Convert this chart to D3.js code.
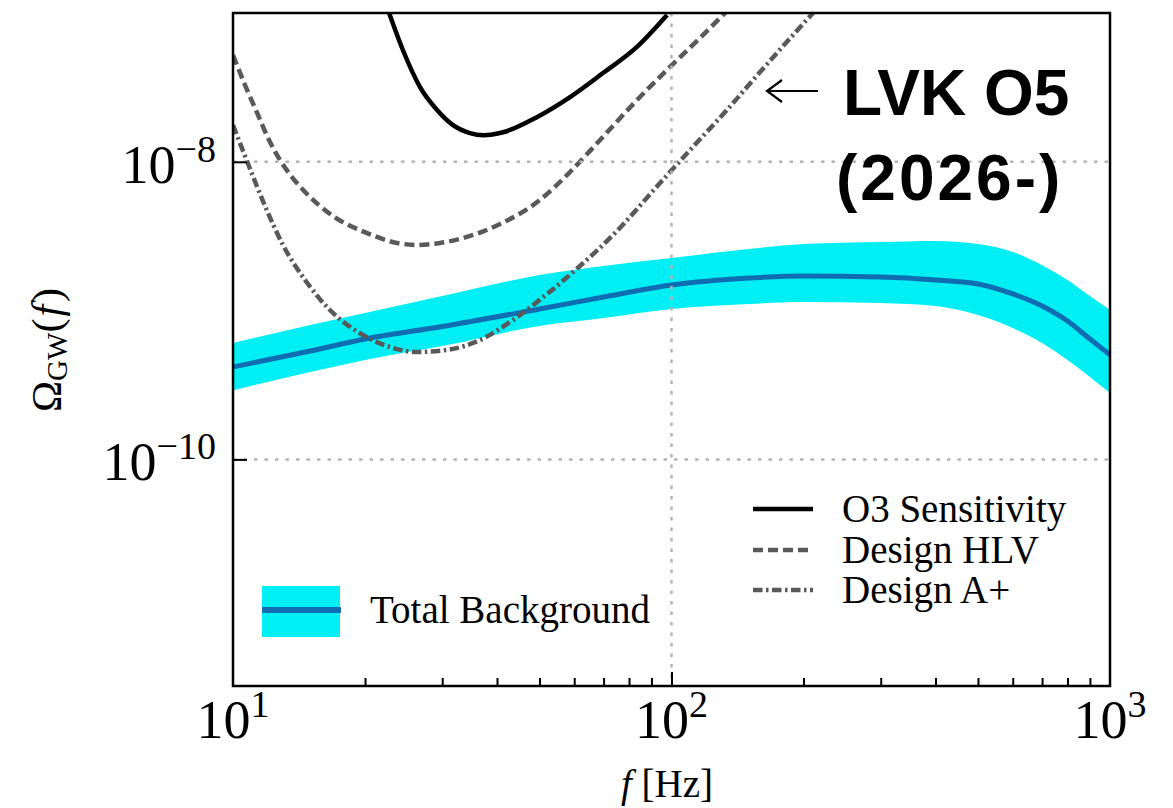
<!DOCTYPE html>
<html>
<head>
<meta charset="utf-8">
<script src="https://cdn.jsdelivr.net/npm/d3@7"></script>
<style>
  html, body { margin: 0; padding: 0; background: #ffffff; }
  svg { display: block; }
</style>
</head>
<body>
<svg id="chart" width="1173" height="808"></svg>
<script>
// ---- Data: frequency f [Hz] and energy density Omega_GW(f) ----
// O3 sensitivity curve
const o3Freq  = [22.7, 24.4, 26.7, 29.2, 31.7, 34.7, 37.2, 41.3, 49.4, 58.7, 69.8, 83.4, 97.7];
const o3Omega = [1.0e-7, 5.64e-8, 3.18e-8, 2.23e-8, 1.77e-8, 1.56e-8, 1.51e-8, 1.58e-8, 2.0e-8, 2.72e-8, 3.95e-8, 5.92e-8, 9.7e-8];

// Design HLV network sensitivity
const hlvFreq  = [10, 10.65, 11.35, 12.02, 12.8, 13.63, 14.6, 16.91, 20.21, 23.66, 26.28, 29.66, 33.45, 40.63, 50.13, 58.69, 68.71, 83.43, 99.22, 116.1, 133.1];
const hlvOmega = [5.22e-8, 3.28e-8, 2.13e-8, 1.445e-8, 1.028e-8, 7.9e-9, 6.27e-9, 4.32e-9, 3.32e-9, 2.85e-9, 2.76e-9, 2.85e-9, 3.07e-9, 3.82e-9, 5.54e-9, 8.54e-9, 1.401e-8, 2.6e-8, 4.34e-8, 6.79e-8, 1.016e-7];

// Design A+ sensitivity
const aplusFreq  = [10, 10.76, 11.83, 13.0, 14.6, 16.64, 19.79, 22.8, 26.28, 30.76, 36.58, 43.5, 52.02, 61.83, 73.56, 94.15, 111.9, 133.8, 159.2, 189.3, 210.2];
const aplusOmega = [1.767e-8, 1.012e-8, 5.05e-9, 2.76e-9, 1.606e-9, 1.009e-9, 6.85e-10, 5.69e-10, 5.27e-10, 5.44e-10, 6.34e-10, 8.65e-10, 1.293e-9, 1.994e-9, 3.22e-9, 7.2e-9, 1.258e-8, 2.23e-8, 4.01e-8, 7.12e-8, 1.0e-7];

// Total background: median and uncertainty band
const bgFreq   = [10, 15, 20, 30, 50, 70, 100, 150, 200, 300, 400, 500, 600, 700, 800, 900, 1000];
const bgMedian = [4.18e-10, 5.35e-10, 6.44e-10, 7.82e-10, 1.026e-9, 1.233e-9, 1.486e-9, 1.656e-9, 1.710e-9, 1.683e-9, 1.607e-9, 1.510e-9, 1.294e-9, 1.074e-9, 8.51e-10, 6.44e-10, 5.04e-10];
const bgUpper  = [6.05e-10, 8.0e-10, 9.64e-10, 1.253e-9, 1.734e-9, 1.995e-9, 2.255e-9, 2.594e-9, 2.805e-9, 2.89e-9, 2.94e-9, 2.805e-9, 2.48e-9, 2.02e-9, 1.607e-9, 1.253e-9, 1.009e-9];
const bgLower  = [2.92e-10, 3.86e-10, 4.66e-10, 5.78e-10, 7.89e-10, 8.91e-10, 1.026e-9, 1.107e-9, 1.142e-9, 1.125e-9, 1.074e-9, 9.33e-10, 7.63e-10, 6.05e-10, 4.66e-10, 3.58e-10, 2.79e-10];

// Axis ticks (powers of ten)
const xTickExponents = [1, 2, 3];
const yTickExponents = [-10, -8];
const xMinorTicks = [20, 30, 40, 50, 60, 70, 80, 90, 200, 300, 400, 500, 600, 700, 800, 900];

// Legend labels
const legendLeftLabel = "Total Background";
const legendRightLabels = ["O3 Sensitivity", "Design HLV", "Design A+"];
const annotationLines = ["LVK O5", "(2026-)"];

// ---- Layout ----
const plot = { left: 233, right: 1110, top: 13, bottom: 686 };
const svg = d3.select("#chart");

const x = d3.scaleLog().domain([10, 1000]).range([plot.left, plot.right]);
const y = d3.scaleLog().domain([3e-12, 1e-7]).range([plot.bottom, plot.top]);

const serif = "'Liberation Serif', 'DejaVu Serif', serif";
const GRAY = "#595959";
const DASHED = "10,5";
const DASHDOT = "9.5,3.5,2.5,3.5";

svg.append("defs").append("clipPath").attr("id", "plotClip")
  .append("rect")
  .attr("x", plot.left).attr("y", plot.top)
  .attr("width", plot.right - plot.left).attr("height", plot.bottom - plot.top);

const area = svg.append("g").attr("clip-path", "url(#plotClip)");

// Uncertainty band of the total background
const bgRows = bgFreq.map((f, i) => ({ f, lo: bgLower[i], hi: bgUpper[i], mid: bgMedian[i] }));
area.append("path")
  .datum(bgRows)
  .attr("fill", "#00eff5")
  .attr("d", d3.area()
    .x(d => x(d.f)).y0(d => y(d.lo)).y1(d => y(d.hi))
    .curve(d3.curveMonotoneX));

// Dotted grid at the major ticks
const grid = svg.append("g")
  .attr("stroke", "#b4b4b4").attr("stroke-width", 2.5)
  .attr("stroke-dasharray", "3.5,7");
grid.selectAll("line.gx")
  .data([100])
  .join("line")
  .attr("x1", d => x(d)).attr("x2", d => x(d))
  .attr("y1", plot.top).attr("y2", plot.bottom);
grid.selectAll("line.gy")
  .data(yTickExponents.map(e => Math.pow(10, e)))
  .join("line")
  .attr("x1", plot.left).attr("x2", plot.right)
  .attr("y1", d => y(d)).attr("y2", d => y(d));

// Background median line
area.append("path")
  .datum(bgRows)
  .attr("fill", "none")
  .attr("stroke", "#0f6db2")
  .attr("stroke-width", 5)
  .attr("d", d3.line().x(d => x(d.f)).y(d => y(d.mid)).curve(d3.curveMonotoneX));

// Detector sensitivity curves
function curve(freqs, omegas) {
  return d3.line()
    .x(d => x(d[0])).y(d => y(d[1]))
    .curve(d3.curveMonotoneX)(freqs.map((f, i) => [f, omegas[i]]));
}

area.append("path")
  .attr("d", curve(hlvFreq, hlvOmega))
  .attr("fill", "none").attr("stroke", GRAY).attr("stroke-width", 4.5)
  .attr("stroke-dasharray", DASHED);

area.append("path")
  .attr("d", curve(aplusFreq, aplusOmega))
  .attr("fill", "none").attr("stroke", GRAY).attr("stroke-width", 4.5)
  .attr("stroke-dasharray", DASHDOT);

area.append("path")
  .attr("d", curve(o3Freq, o3Omega))
  .attr("fill", "none").attr("stroke", "#000").attr("stroke-width", 4.5);

// Axes: inward ticks
const xMajor = svg.append("g")
  .attr("transform", `translate(0,${plot.bottom})`)
  .call(d3.axisBottom(x).tickValues([100]).tickSize(-14).tickFormat(""));
const xMinor = svg.append("g")
  .attr("transform", `translate(0,${plot.bottom})`)
  .call(d3.axisBottom(x).tickValues(xMinorTicks).tickSize(-8).tickFormat(""));
const yMajor = svg.append("g")
  .attr("transform", `translate(${plot.left},0)`)
  .call(d3.axisLeft(y).tickValues(yTickExponents.map(e => Math.pow(10, e))).tickSize(-14).tickFormat(""));
[xMajor, xMinor, yMajor].forEach(g => {
  g.select(".domain").remove();
  g.selectAll(".tick line").attr("stroke", "#000").attr("stroke-width", 2);
});

// Frame
svg.append("rect")
  .attr("x", plot.left).attr("y", plot.top)
  .attr("width", plot.right - plot.left).attr("height", plot.bottom - plot.top)
  .attr("fill", "none").attr("stroke", "#000").attr("stroke-width", 2.5);

// Tick labels as powers of ten
xTickExponents.forEach(e => {
  const t = svg.append("text")
    .attr("x", x(Math.pow(10, e))).attr("y", 738)
    .attr("text-anchor", "middle")
    .attr("font-family", serif).attr("font-size", 54).attr("fill", "#000");
  t.append("tspan").text("10");
  t.append("tspan").attr("dy", -21).attr("font-size", 38).text(String(e));
});
yTickExponents.forEach(e => {
  const t = svg.append("text")
    .attr("x", 216).attr("y", y(Math.pow(10, e)) + 21)
    .attr("text-anchor", "end")
    .attr("font-family", serif).attr("font-size", 54).attr("fill", "#000");
  t.append("tspan").text("10");
  t.append("tspan").attr("dy", -21).attr("font-size", 38).text("\u2212" + Math.abs(e));
});

// Axis titles
const xTitle = svg.append("text")
  .attr("x", 667).attr("y", 797)
  .attr("text-anchor", "middle")
  .attr("font-family", serif).attr("font-size", 39).attr("fill", "#000");
xTitle.append("tspan").attr("font-style", "italic").text("f");
xTitle.append("tspan").text(" [Hz]");

const yTitle = svg.append("text")
  .attr("transform", "translate(61,350) rotate(-90)")
  .attr("text-anchor", "middle")
  .attr("font-family", serif).attr("font-size", 42).attr("fill", "#000");
yTitle.append("tspan").text("\u03A9");
yTitle.append("tspan").attr("font-size", 29).attr("dy", 6).text("GW");
yTitle.append("tspan").attr("dy", -6).text("(");
yTitle.append("tspan").attr("font-style", "italic").attr("dx", 2).text("f");
yTitle.append("tspan").attr("dx", 3).text(")");

// Left legend: background band
svg.append("rect")
  .attr("x", 262).attr("y", 586).attr("width", 78).attr("height", 51)
  .attr("fill", "#00eff5");
svg.append("line")
  .attr("x1", 262).attr("x2", 341).attr("y1", 610).attr("y2", 610)
  .attr("stroke", "#0f6db2").attr("stroke-width", 6);
svg.append("text")
  .attr("x", 370).attr("y", 623)
  .attr("font-family", serif).attr("font-size", 39).attr("fill", "#000")
  .text(legendLeftLabel);

// Right legend: sensitivity curves
const legendStyles = [
  { stroke: "#000", dash: null, width: 4.5 },
  { stroke: GRAY, dash: DASHED, width: 4.5 },
  { stroke: GRAY, dash: DASHDOT, width: 4.5 }
];
const legendYs = [509, 550, 590];
legendRightLabels.forEach((label, i) => {
  const st = legendStyles[i];
  svg.append("line")
    .attr("x1", 753).attr("x2", 813)
    .attr("y1", legendYs[i]).attr("y2", legendYs[i])
    .attr("stroke", st.stroke).attr("stroke-width", st.width)
    .attr("stroke-dasharray", st.dash);
  svg.append("text")
    .attr("x", 842).attr("y", legendYs[i] + 13)
    .attr("font-family", serif).attr("font-size", 39).attr("fill", "#000")
    .text(label);
});

// Annotation for the O5 observing run
svg.append("path")
  .attr("d", "M818,91 H768 M782,80 L767,91 L782,102")
  .attr("fill", "none").attr("stroke", "#000").attr("stroke-width", 2.2);
svg.append("text")
  .attr("x", 843).attr("y", 115)
  .attr("font-family", "'Liberation Sans', Arial, sans-serif")
  .attr("font-weight", 700).attr("font-size", 64).attr("fill", "#000")
  .text(annotationLines[0]);
svg.append("text")
  .attr("x", 836).attr("y", 200)
  .attr("font-family", "'Liberation Sans', Arial, sans-serif")
  .attr("font-weight", 700).attr("font-size", 64).attr("fill", "#000")
  .attr("letter-spacing", 3)
  .text(annotationLines[1]);
</script>
</body>
</html>
